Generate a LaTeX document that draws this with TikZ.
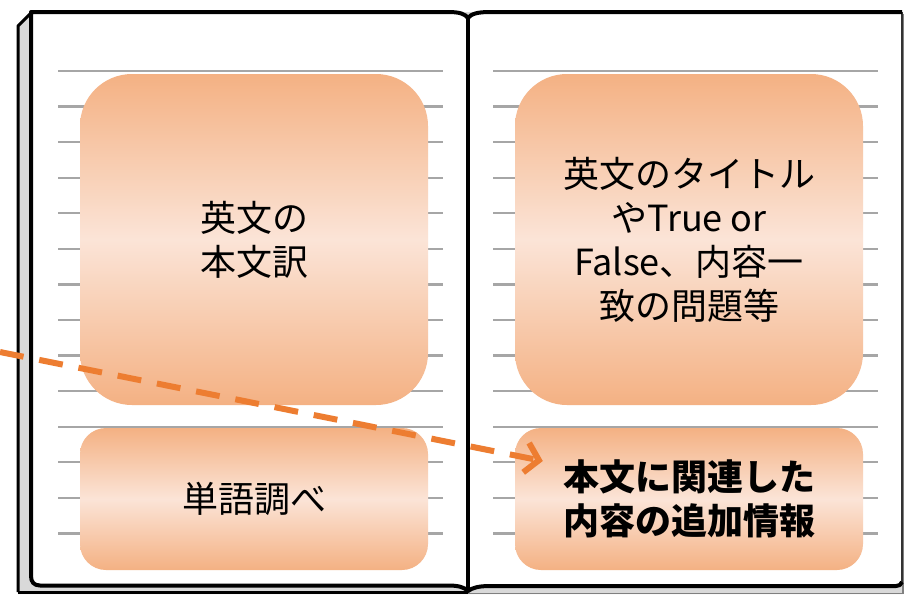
\documentclass[tikz,border=0pt]{standalone}
\usepackage{fontspec}
\setmainfont{Noto Sans CJK JP}
\usetikzlibrary{arrows.meta,calc}
\definecolor{orDark}{HTML}{F4B183}
\definecolor{orLight}{HTML}{FBE4D7}
\definecolor{arrowOr}{HTML}{ED7D31}
\definecolor{ruleGray}{HTML}{A6A6A6}
\definecolor{coverGray}{HTML}{D9D9D9}
\tikzset{
  bookline/.style={line width=4pt, black, line join=round},
  ruleline/.style={line width=2.4pt, ruleGray},
  notebox/.style={draw=none, inner sep=0pt, align=center,
    top color=orDark, bottom color=orDark, middle color=orLight,
    font=\fontsize{36pt}{44pt}\selectfont},
  arrowline/.style={line width=6pt, arrowOr, dash pattern=on 24pt off 16pt,
    -{Straight Barb[length=13pt,width=30pt,line width=6pt]}}
}
\begin{document}
\begin{tikzpicture}[x=1pt,y=-1pt]
\useasboundingbox (0,0) rectangle (905,595);
% cover
\fill[coverGray] (18,594) -- (18,26) -- (31,12) -- (903,12) -- (903,594) -- cycle;
\draw[line width=3pt, line join=round] (18,592) -- (18,26) -- (31,13);
\draw[line width=3pt] (18,592) -- (468,592);
\draw[line width=1.6pt, gray] (468,593.5) -- (903,593.5) -- (903,14);
% left page
\draw[bookline, fill=white] (31,12) -- (448,12) .. controls (460,12) and (465,14) .. (468,18)
  -- (468,591) .. controls (464,587) and (458,585.5) .. (448,585.5) -- (40,585.5)
  .. controls (34,585.5) and (31,582) .. (31,576) -- cycle;
% right page
\fill[white] (468,18) .. controls (471,14) and (477,12) .. (490,12) -- (902,12)
  -- (902,586) -- (490,586) .. controls (478,586) and (472,588) .. (468,591) -- cycle;
\draw[line width=1.6pt, black!80] (902,12) -- (902,584);
\draw[bookline] (468,18) .. controls (471,14) and (477,12) .. (490,12) -- (902,12);
\draw[bookline] (468,591) .. controls (472,588) and (478,586) .. (490,586) -- (896,586)
  .. controls (899,586) and (901,585) .. (902,582);
\draw[bookline] (468,18) -- (468,591);
% ruled lines
\foreach \k in {0,...,13}{
  \draw[ruleline] (58,71+35.57*\k) -- (443,71+35.57*\k);
  \draw[ruleline] (493,71+35.57*\k) -- (878,71+35.57*\k);
}
% boxes
\node[notebox, rounded corners=52pt, minimum width=348pt, minimum height=331pt]
  (box1) at (254,239.5) {英文の\\本文訳};
\node[notebox, rounded corners=26pt, minimum width=348pt, minimum height=142pt]
  (box2) at (254,499) {単語調べ};
\node[notebox, rounded corners=52pt, minimum width=348pt, minimum height=331pt]
  (box3) at (689,239.5) {英文のタイトル\\やTrue or\\False、内容一\\致の問題等};
\node[notebox, rounded corners=26pt, minimum width=348pt, minimum height=142pt,
  font=\fontsize{36pt}{44pt}\selectfont\bfseries]
  (box4) at (689,499) {本文に関連した\\内容の追加情報};
% arrow
\coordinate (astart) at (0,352);
\draw[arrowline] (astart) -- ($(box4.west)+(28,-38)$);
\end{tikzpicture}
\end{document}
